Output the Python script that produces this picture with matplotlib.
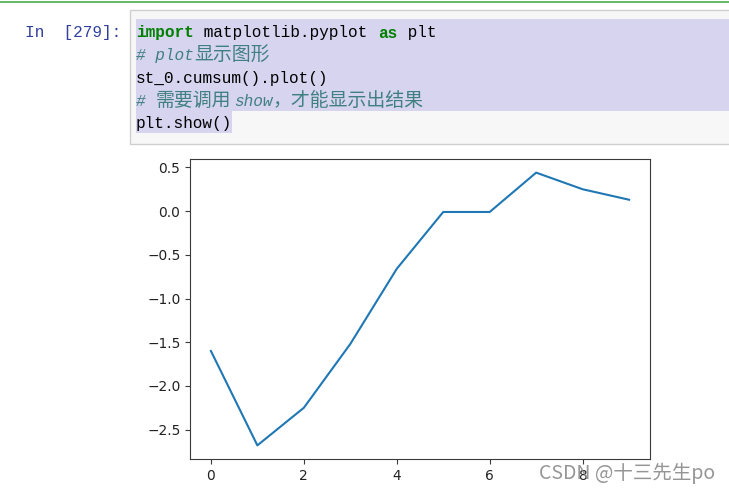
import matplotlib.pyplot as plt
from matplotlib.patches import Rectangle

# 数据: st_0.cumsum()
idx = list(range(10))
cum_values = [-1.60, -2.68, -2.25, -1.52, -0.66, -0.01, -0.01, 0.44, 0.25, 0.13]
x_ticks = [0, 2, 4, 6, 8]
y_ticks = [-2.5, -2.0, -1.5, -1.0, -0.5, 0.0, 0.5]

# 代码单元格的文本
prompt_text = 'In  [279]:'
code_lines = [
    [('import', 'kw'), (' matplotlib.pyplot ', 'plain'), ('as', 'kw'), (' plt', 'plain')],
    [('# plot显示图形', 'comment')],
    [('st_0.cumsum().plot()', 'plain')],
    [('# 需要调用show，才能显示出结果', 'comment')],
    [('plt.show()', 'plain')],
]
watermark = 'CSDN @十三先生po'

W, H = 729, 495
fig = plt.figure(figsize=(W / 100, H / 100), dpi=100)
fig.patch.set_facecolor('white')


def px(x, y):
    return x / W, 1 - y / H


def rect(x0, y0, x1, y1, **kw):
    fig.patches.append(Rectangle(px(x0, y1), (x1 - x0) / W, (y1 - y0) / H,
                                 transform=fig.transFigure, **kw))


def runs(s):
    # 把字符串切成 ASCII 段和中文段
    out = []
    for ch in s:
        cjk = ord(ch) > 0x2000
        if out and out[-1][1] == cjk:
            out[-1][0] += ch
        else:
            out.append([ch, cjk])
    return out


# 顶部绿线
rect(0, 1.5, W, 3, facecolor='#66bb6a', edgecolor='none')
# 代码框
rect(129.5, 10, W + 5, 143.5, facecolor='#f7f7f7', edgecolor='#cfcfcf', linewidth=1)
# 选中高亮
rect(136, 19, W, 111, facecolor='#d7d4f0', edgecolor='none')
rect(136, 111, 232, 133, facecolor='#d7d4f0', edgecolor='none')

mono = ['Liberation Mono', 'Noto Sans CJK SC']
fs = 11.6
char_w = 9.7
cjk_fs = 13.6
cjk_w = 19.6
fig.text(*px(25, 37), prompt_text, family=mono, fontsize=fs, color='#303f9f', va='baseline')

line_y = [37.5, 60, 83, 105.5, 128]
for y, segs in zip(line_y, code_lines):
    x = 136
    for s, kind in segs:
        kw = dict(family=mono, fontsize=fs, va='baseline', color='#000000')
        if kind == 'kw':
            kw.update(color='#008000', weight='bold')
        elif kind == 'comment':
            kw.update(color='#408080', style='italic')
        for part, cjk in runs(s):
            if cjk:
                fig.text(*px(x, y + 0.5), part, **{**kw, 'fontsize': cjk_fs, 'family': ['Noto Sans CJK SC']})
                x += len(part) * cjk_w
            else:
                fig.text(*px(x, y), part, **kw)
                x += len(part) * char_w

# 图表
ax = fig.add_axes([190 / W, 1 - 459 / H, 460 / W, 300 / H])
ax.plot(idx, cum_values, color='#1f77b4', linewidth=1.5)
ax.set_xticks(x_ticks)
ax.set_yticks(y_ticks)
ax.set_xlim(-0.45, 9.45)
ax.set_ylim(min(cum_values) - 0.156, max(cum_values) + 0.156)
for sp in ax.spines.values():
    sp.set_color('#3a3a3a')
    sp.set_linewidth(0.8)
ax.tick_params(labelsize=9.9, colors='#3a3a3a', length=3.4, width=0.8, pad=3.5)
for lab in ax.get_xticklabels() + ax.get_yticklabels():
    lab.set_color('#222222')

# 水印
fig.text(*px(539, 473), watermark, family=['Noto Sans CJK SC', 'DejaVu Sans'],
         fontsize=14, color='#8a8a8a', va='center', alpha=0.9)

fig.savefig('out.png', dpi=100)
